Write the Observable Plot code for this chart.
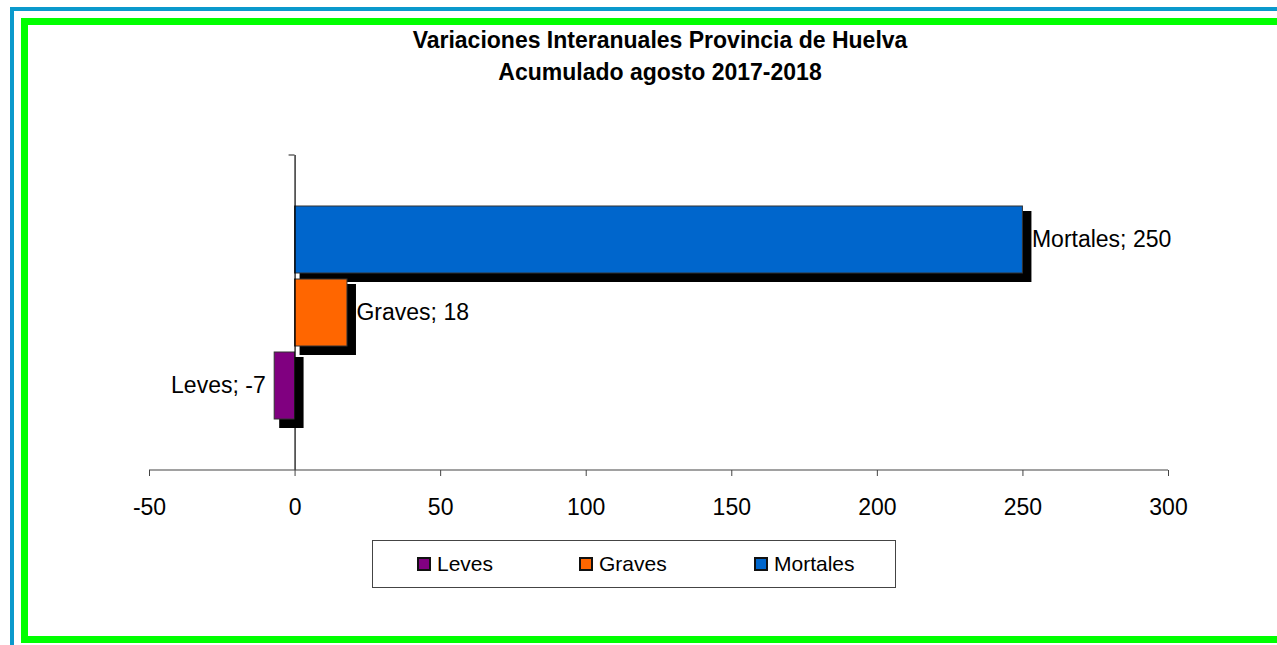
<!DOCTYPE html>
<html>
<head>
<meta charset="utf-8">
<script src="https://cdn.jsdelivr.net/npm/d3@7"></script>
<script src="https://cdn.jsdelivr.net/npm/@observablehq/plot@0.6"></script>
<style>
  html, body { margin: 0; padding: 0; overflow: hidden; background: #fff; }
  #page { position: relative; width: 1277px; height: 645px; overflow: hidden; font-family: "Liberation Sans", Arial, sans-serif; }
  .blue { position: absolute; left: 10px; top: 7px; width: 3000px; height: 3000px; border-left: 4px solid #0a99cc; border-top: 4px solid #0a99cc; box-sizing: border-box; }
  .green { position: absolute; left: 21px; top: 18px; width: 3000px; height: 625px; border-left: 7px solid #00ff00; border-top: 7px solid #00ff00; border-bottom: 7px solid #00ff00; box-sizing: border-box; }
  #chart { position: absolute; left: 0; top: 0; }
  #chart text.lbl { letter-spacing: 0.5px; }
  .title { position: absolute; left: 260px; width: 800px; text-align: center; font-weight: bold; font-size: 23px; color: #000; line-height: 26px; }
  #legend { position: absolute; left: 372px; top: 540px; width: 524px; height: 48px; border: 1px solid #444; box-sizing: border-box; background: #fff; }
  .item { position: absolute; top: 0; height: 46px; display: flex; align-items: center; font-size: 21px; color: #000; }
  .sw { width: 14px; height: 14px; border: 2px solid #111; box-sizing: border-box; margin-right: 6px; }
</style>
</head>
<body>
<div id="page">
  <div class="blue"></div>
  <div class="green"></div>
  <div id="chart"></div>
  <div class="title" id="t1" style="top:27px"></div>
  <div class="title" id="t2" style="top:59px"></div>
  <div id="legend"></div>
</div>
<script>
const titleLines = ["Variaciones Interanuales Provincia de Huelva", "Acumulado agosto 2017-2018"];
const series = ["Mortales", "Graves", "Leves"];
const values = [250, 18, -7];
const colors = ["#0066cc", "#ff6600", "#800080"];
const legendOrder = ["Leves", "Graves", "Mortales"];
const xTicks = [-50, 0, 50, 100, 150, 200, 250, 300];

document.getElementById("t1").textContent = titleLines[0];
document.getElementById("t2").textContent = titleLines[1];

const data = series.map((s, i) => ({serie: s, value: values[i]}));

// axis line along bottom of frame and top category tick on the y axis
const axisDecor = (index, scales, values, dims) => {
  const g = d3.create("svg:g");
  const yb = dims.height - dims.marginBottom;
  const x0 = scales.x(0);
  g.append("line")
    .attr("x1", dims.marginLeft).attr("x2", dims.width - dims.marginRight)
    .attr("y1", yb).attr("y2", yb)
    .attr("stroke", "#444").attr("stroke-width", 1.2);
  g.append("line")
    .attr("x1", x0 - 6).attr("x2", x0)
    .attr("y1", dims.marginTop).attr("y2", dims.marginTop)
    .attr("stroke", "#444").attr("stroke-width", 1.2);
  return g.node();
};

const chart = Plot.plot({
  width: 1277,
  height: 645,
  marginLeft: 149,
  marginRight: 109,
  marginTop: 155,
  marginBottom: 175,
  style: {background: "transparent", fontFamily: "'Liberation Sans', Arial, sans-serif", overflow: "visible"},
  x: {domain: [-50, 300], axis: null, label: null},
  y: {domain: series, type: "band", paddingInner: 0.08, paddingOuter: 0.67, axis: null},
  color: {domain: series, range: colors},
  marks: [
    Plot.rectX(data, {x1: 0, x2: "value", y: "serie", fill: "#000", dx: 5, dy: 5, insetRight: -4, insetBottom: -4}),
    Plot.rectX(data, {x1: 0, x2: "value", y: "serie", fill: "serie", stroke: "#333", strokeWidth: 1}),
    Plot.ruleX([0], {stroke: "#000", strokeWidth: 1.2}),
    axisDecor,
    Plot.axisX({ticks: xTicks, tickSize: 6, tickPadding: 22, fontSize: 23, stroke: "#444", tickFormat: d => String(d), fill: "#000", anchor: "bottom", label: null}),
    Plot.text(data.filter(d => d.value >= 0), {x: "value", y: "serie", text: d => `${d.serie}; ${d.value}`, textAnchor: "start", dx: 9, fontSize: 23, fill: "#000", className: "lbl"}),
    Plot.text(data.filter(d => d.value < 0), {x: "value", y: "serie", text: d => `${d.serie}; ${d.value}`, textAnchor: "end", dx: -9, fontSize: 23, fill: "#000", className: "lbl"})
  ]
});
document.getElementById("chart").appendChild(chart);

const legendX = [44, 206, 381];
const legend = document.getElementById("legend");
legendOrder.forEach((s, i) => {
  const it = document.createElement("div");
  it.className = "item";
  it.style.left = legendX[i] + "px";
  const sw = document.createElement("div");
  sw.className = "sw";
  sw.style.background = colors[series.indexOf(s)];
  const tx = document.createElement("span");
  tx.textContent = s;
  it.appendChild(sw);
  it.appendChild(tx);
  legend.appendChild(it);
});
</script>
</body>
</html>
